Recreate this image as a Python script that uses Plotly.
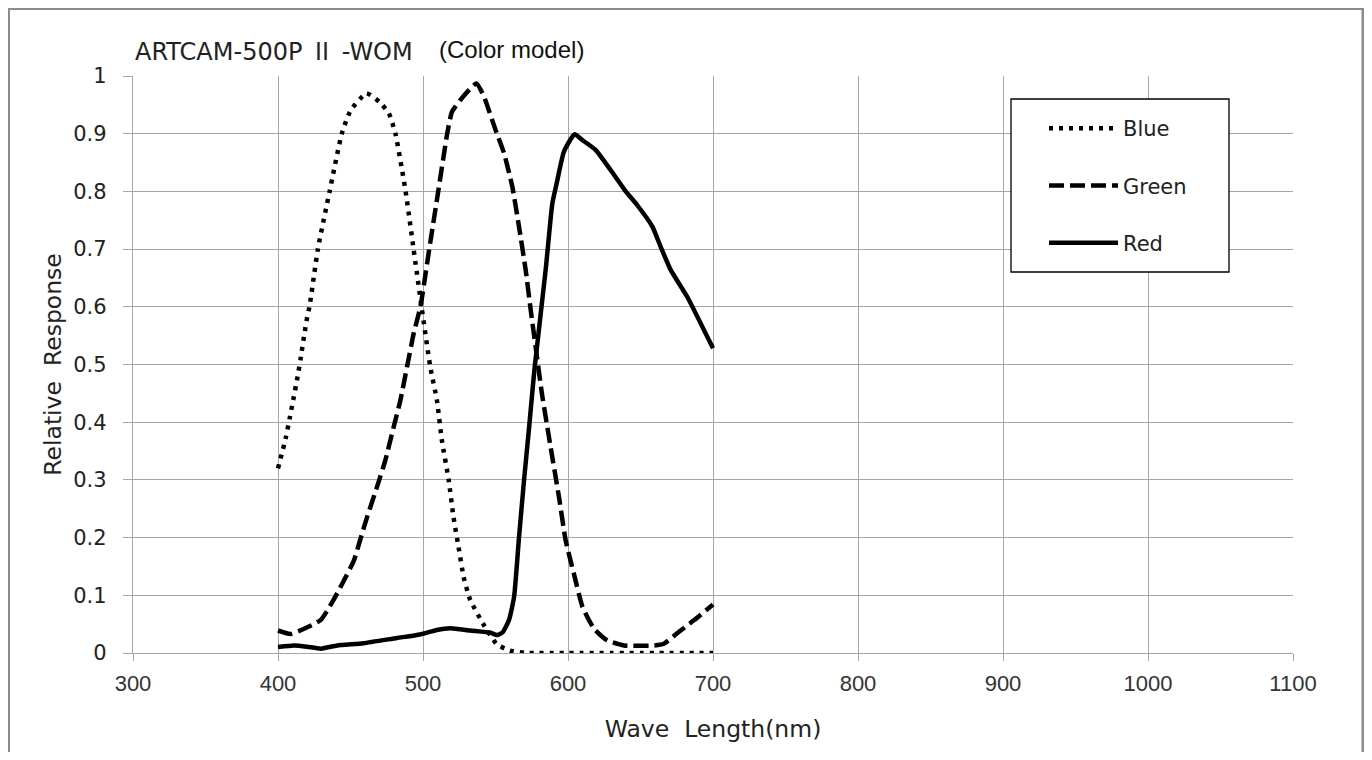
import plotly.graph_objects as go

# ---- data ----
blue_x = [400, 405.3, 408, 410.6, 413.3, 415.6, 417.9, 420.2, 421.7, 427.5, 435.6, 444, 450, 461,
          470, 476.5, 481, 488, 493.5, 499, 505, 509.6, 513, 517.7, 521, 524.5, 528, 532.4,
          541.6, 551, 560, 571, 580, 590, 600, 610, 620, 630, 640, 650, 660, 670, 680, 690, 700]
blue_y = [0.32, 0.372, 0.406, 0.44, 0.476, 0.51, 0.548, 0.583, 0.6, 0.7, 0.8, 0.9, 0.94, 0.97,
          0.955, 0.935, 0.9, 0.8, 0.7, 0.6, 0.496, 0.438, 0.369, 0.3, 0.236, 0.184, 0.132, 0.093,
          0.05, 0.015, 0.004, 0, 0, 0, 0, 0, 0, 0, 0, 0, 0, 0, 0, 0, 0]

green_x = [400, 408.7, 418, 429.4, 437.4, 444.3, 452.3, 456.9, 461.5, 468.3, 474, 479.8, 484.4,
           489, 493.6, 498.2, 504.3, 510.5, 516.7, 520, 527.6, 536.8, 542.1, 550.1, 555.9, 561.6,
           566.2, 570.8, 574.3, 577.7, 582, 588, 593.8, 598.4, 604, 610, 618, 627, 638.6, 659,
           666, 677.7, 687, 700]
green_y = [0.039, 0.033, 0.042, 0.057, 0.088, 0.12, 0.16, 0.198, 0.236, 0.288, 0.334, 0.392, 0.438,
           0.496, 0.554, 0.6, 0.7, 0.8, 0.9, 0.938, 0.964, 0.987, 0.964, 0.906, 0.866, 0.808,
           0.739, 0.664, 0.594, 0.53, 0.45, 0.357, 0.27, 0.195, 0.138, 0.08, 0.042, 0.022, 0.013, 0.013,
           0.016, 0.039, 0.057, 0.084]

red_x = [400, 411, 420, 429.4, 440.8, 459, 482, 498, 509.6, 518.8, 532.6, 546.7, 551, 555, 559.3,
         562.8, 566.2, 569.7, 573, 576.8, 584.6, 589.2, 592.2, 597.2, 604.6, 609.9, 619, 629.4,
         639.8, 647.8, 658.2, 663.9, 670.8, 682.3, 700]
red_y = [0.0104, 0.013, 0.011, 0.0075, 0.013, 0.017, 0.026, 0.032, 0.04, 0.043, 0.039, 0.035, 0.031,
         0.036, 0.057, 0.097, 0.2, 0.3, 0.386, 0.49, 0.664, 0.779, 0.814, 0.869, 0.899, 0.889,
         0.872, 0.837, 0.80, 0.776, 0.739, 0.704, 0.664, 0.617, 0.528]

x_ticks = [300, 400, 500, 600, 700, 800, 900, 1000, 1100]
y_ticks = [0, 0.1, 0.2, 0.3, 0.4, 0.5, 0.6, 0.7, 0.8, 0.9, 1]

title_main = ("ARTCAM-500P\u00a0<span style=\"font-family:'Noto Sans CJK JP'\">Ⅱ</span>\u00a0-WOM")
title_sub = "(Color model)"
x_title = "Wave\u00a0\u00a0Length(nm)"
y_title = "Relative\u00a0\u00a0Response"

# the page body has an 8px margin, so the figure is drawn 8px in from the page corner
OFF = 8
W, H = 1372 - 2 * OFF, 760 - 2 * OFF
L, R, T, B = 133 - OFF, 1293 - OFF, 76 - OFF, 653 - OFF


def px(x):
    """page x pixel -> paper fraction"""
    return (x - OFF - L) / (R - L)


def py(y):
    """page y pixel -> paper fraction"""
    return (B - (y - OFF)) / (B - T)


TXT = "DejaVu Sans, Noto Sans, sans-serif"

fig = go.Figure()
fig.add_trace(go.Scatter(x=blue_x, y=blue_y, name="Blue", mode="lines", legendgroup="b",
                         line=dict(color="black", width=4.5, dash="4px,6px", shape="spline", smoothing=0.5)))
fig.add_trace(go.Scatter(x=green_x, y=green_y, name="Green", mode="lines", legendgroup="g",
                         line=dict(color="black", width=4.5, dash="15px,6px", shape="spline", smoothing=0.5)))
fig.add_trace(go.Scatter(x=red_x, y=red_y, name="Red", mode="lines", legendgroup="r",
                         line=dict(color="black", width=4.5, shape="spline", smoothing=0.5)))

grid = "#a6a6a6"
fig.update_layout(
    width=W, height=H,
    margin=dict(l=L, r=W - R, t=T, b=H - B, pad=0),
    paper_bgcolor="white", plot_bgcolor="white",
    font=dict(family=TXT, color="#222222"),
    showlegend=True,
    legend=dict(x=px(1044), y=py(108), xanchor="left", yanchor="top", itemwidth=69,
                bgcolor="rgba(0,0,0,0)", borderwidth=0, tracegroupgap=27,
                font=dict(family=TXT, size=21, color="#222222")),
    xaxis=dict(range=[300, 1100], tickvals=x_ticks, ticktext=[str(v) for v in x_ticks],
               showgrid=True, gridcolor=grid, gridwidth=1.3,
               showline=True, linecolor=grid, linewidth=1.3, zeroline=False,
               ticks="outside", ticklen=7, tickcolor=grid, tickwidth=1.3,
               ticklabelstandoff=3,
               tickfont=dict(family="Liberation Sans, Arial, sans-serif", size=22, color="#333333"),
               title=dict(text=x_title, standoff=26,
                          font=dict(family=TXT, size=23.5, color="#222222"))),
    yaxis=dict(range=[0, 1], tickvals=y_ticks, ticktext=[f"{v:g}" for v in y_ticks],
               showgrid=True, gridcolor=grid, gridwidth=1.3,
               showline=True, linecolor=grid, linewidth=1.3, zeroline=False,
               ticks="outside", ticklen=9, tickcolor=grid, tickwidth=1.3,
               ticklabelstandoff=12,
               tickfont=dict(family=TXT, size=21, color="#222222"),
               title=dict(text=y_title, standoff=5,
                          font=dict(family=TXT, size=23.5, color="#222222"))),
    shapes=[
        dict(type="rect", xref="paper", yref="paper", x0=px(OFF + 0.5), x1=px(1363), y0=py(900), y1=py(OFF + 0.5),
             line=dict(color="#8c8c8c", width=3), fillcolor="rgba(0,0,0,0)", layer="below"),
        dict(type="rect", xref="paper", yref="paper", x0=px(1011), x1=px(1229), y0=py(272), y1=py(99),
             line=dict(color="black", width=1.3), fillcolor="white", layer="above"),
    ],
    annotations=[
        dict(text=title_main, xref="paper", yref="paper", x=px(133), y=py(50), xanchor="left",
             yanchor="middle", showarrow=False,
             font=dict(family="DejaVu Sans, Noto Sans CJK JP, sans-serif", size=24, color="#222222")),
        dict(text=title_sub, xref="paper", yref="paper", x=px(437), y=py(50), xanchor="left",
             yanchor="middle", showarrow=False,
             font=dict(family="Liberation Sans Narrow, Liberation Sans, Arial, sans-serif", size=24,
                       color="#111111")),
    ],
)

fig.write_html("out.html")
